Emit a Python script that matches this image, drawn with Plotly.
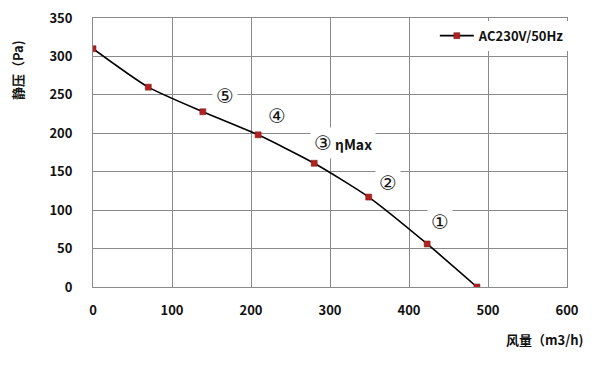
import plotly.graph_objects as go

flow = [0, 70, 139, 209, 280, 349, 423, 486]
pressure = [310, 260, 228, 198, 161, 117, 56, 0]
series_name = "AC230V/50Hz"

label_texts = ["⑤", "④", "③ ηMax", "②", "①"]
label_x = [167, 233, 316, 373, 439]
label_y = [248, 222, 187, 135, 85]

x_ticks = [0, 100, 200, 300, 400, 500, 600]
y_ticks = [0, 50, 100, 150, 200, 250, 300, 350]

FONT = "Noto Sans CJK SC, Noto Sans, sans-serif"

fig = go.Figure()
fig.add_trace(go.Scatter(
    x=flow, y=pressure, mode="lines+markers", name=series_name,
    line=dict(color="black", width=1.6, shape="spline", smoothing=0.6),
    marker=dict(symbol="square", size=6, color="#B22222",
                line=dict(color="#7a1010", width=0.5)),
))

for t, x, y in zip(label_texts, label_x, label_y):
    if "η" in t:
        txt = "<span style='font-family:DejaVu Sans;font-size:20px'>③</span> <b>ηMax</b>"
        f = dict(family=FONT, size=14, color="#111")
    else:
        txt = t
        f = dict(family="DejaVu Sans, " + FONT, size=20, color="#111")
    fig.add_annotation(x=x, y=y, text=txt, showarrow=False,
                       bgcolor="white", borderpad=3, font=f)

fig.update_layout(
    width=600, height=365,
    margin=dict(l=85, r=41, t=10, b=86, autoexpand=False),
    paper_bgcolor="white", plot_bgcolor="white",
    font=dict(family=FONT, size=13, color="#111"),
    showlegend=True,
    legend=dict(x=1.006, y=0.99, xanchor="right", yanchor="top",
                bgcolor="white", borderwidth=0,
                font=dict(family=FONT, size=13, color="#111", weight="bold"),
                itemwidth=34, tracegroupgap=0),
    xaxis=dict(range=[0, 600], tickvals=x_ticks, showgrid=True,
               gridcolor="#8a8a8a", gridwidth=1, zeroline=False,
               showline=True, linecolor="#8a8a8a", mirror=True,
               tickfont=dict(family=FONT, size=13, weight="bold"),
               ticklabelstandoff=11, ticklabeloverflow="allow",
               automargin=False, fixedrange=True),
    yaxis=dict(range=[0, 350], tickvals=y_ticks, showgrid=True,
               gridcolor="#8a8a8a", gridwidth=1, zeroline=False,
               showline=True, linecolor="#8a8a8a", mirror=True,
               tickfont=dict(family=FONT, size=13, weight="bold"),
               ticklabelstandoff=17, ticklabeloverflow="allow",
               automargin=False, fixedrange=True),
)

fig.add_annotation(xref="paper", yref="paper", x=1.038, y=-0.197,
                   xanchor="right", yanchor="middle", showarrow=False,
                   text="<b>风量（m3/h)</b>",
                   font=dict(family=FONT, size=13, color="#111"))
fig.add_annotation(xref="paper", yref="paper", x=-0.158, y=0.807,
                   xanchor="center", yanchor="middle", showarrow=False,
                   textangle=-90, text="<b>静压（Pa)</b>",
                   font=dict(family=FONT, size=13, color="#111"))

fig.write_html("out.html")
